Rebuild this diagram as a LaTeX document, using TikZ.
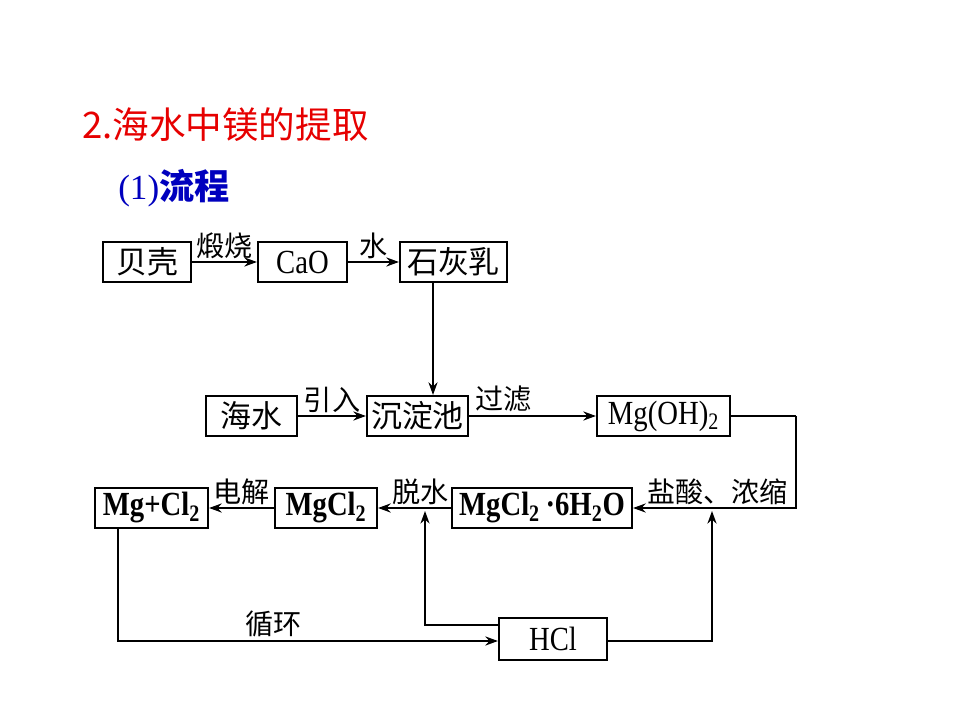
\documentclass[tikz,border=0pt]{standalone}
\usepackage{fontspec}
\setmainfont{Liberation Serif}
\newfontfamily\cjk{Noto Sans CJK SC}
\newfontfamily\chem[FakeStretch=0.85]{Liberation Serif}
\usetikzlibrary{arrows.meta}
\definecolor{titlered}{RGB}{230,0,0}
\definecolor{titleblue}{RGB}{0,0,190}
\begin{document}
\begin{tikzpicture}[x=0.025cm,y=-0.025cm,
	box/.style={draw,line width=1.5pt,minimum height=1cm,inner sep=0pt,font=\chem\fontsize{24}{26}\selectfont},
	lab/.style={font=\cjk\fontsize{20}{22}\selectfont,inner sep=2pt},
	flow/.style={line width=1.2pt,-{Stealth[length=9pt,width=6.5pt]}},
	wire/.style={line width=1.2pt}]
	\useasboundingbox (0,0) rectangle (960,720);
	\node[anchor=west,inner sep=0pt,titlered,font=\cjk\fontsize{26}{28}\selectfont] (head) at (82,125) {2.海水中镁的提取};
	\node[anchor=west,inner sep=0pt,titleblue,font=\fontsize{25}{27}\selectfont] (sub) at (118,188) {(1){\cjk\bfseries 流程}};
	% first row
	\node[box,minimum width=2.2cm] (bei) at (147,262) {\cjk\fontsize{22}{24}\selectfont 贝壳};
	\node[box,minimum width=2.225cm] (cao) at (302.5,262) {CaO};
	\node[box,minimum width=2.675cm] (shi) at (453.5,262) {\cjk\fontsize{22}{24}\selectfont 石灰乳};
	\draw[flow] (bei) -- node[lab,above] {煅烧} (cao);
	\draw[flow] (cao) -- node[lab,above] {水} (shi);
	% second row
	\node[box,minimum width=2.275cm] (hai) at (251.5,416) {\cjk\fontsize{22}{24}\selectfont 海水};
	\node[box,minimum width=2.525cm] (chen) at (417.5,416) {\cjk\fontsize{22}{24}\selectfont 沉淀池};
	\node[box,minimum width=3.325cm] (mgoh) at (663.5,416) {Mg(OH)\textsubscript{2}};
	\coordinate (drop) at (433,282);
	\draw[flow,line width=0.9pt] (drop) -- (drop |- chen.north);
	\draw[flow] (hai) -- node[lab,above] {引入} (chen);
	\draw[flow] (chen) -- node[lab,above,pos=0.27] {过滤} (mgoh);
	% third row
	\node[box,minimum width=2.825cm,font=\chem\fontsize{24}{26}\selectfont\bfseries] (mg) at (151.5,508) {Mg+Cl\textsubscript{2}};
	\node[box,minimum width=2.55cm,font=\chem\fontsize{24}{26}\selectfont\bfseries] (mgcl) at (326,508) {MgCl\textsubscript{2}};
	\node[box,minimum width=4.5cm,font=\chem\fontsize{24}{26}\selectfont\bfseries] (hyd) at (542,508) {MgCl\textsubscript{2}\,·6H\textsubscript{2}O};
	\node[box,minimum width=2.7cm,minimum height=1.05cm] (hcl) at (553,639) {HCl};
	\coordinate (turn) at (796,416);
	\draw[wire] (mgoh) -- (turn);
	\draw[flow] (turn) |- node[lab,above,pos=0.74] {盐酸、浓缩} (hyd);
	\draw[flow] (hyd) -- node[lab,above,pos=0.42] {脱水} (mgcl);
	\draw[flow] (mgcl) -- node[lab,above] {电解} (mg);
	% HCl loop
	\coordinate (back) at (118,641);
	\coordinate (up1) at (425,625);
	\coordinate (tip1) at (425,511);
	\coordinate (tip2) at (712,511);
	\draw[flow] (mg.south -| back) -- (back) -- node[lab,above,pos=0.41] {循环} (hcl.west |- back);
	\draw[flow,line width=0.9pt] (hcl.west |- up1) -- (up1) -- (tip1);
	\draw[flow] (hcl.east |- back) -| (tip2);
\end{tikzpicture}
\end{document}
